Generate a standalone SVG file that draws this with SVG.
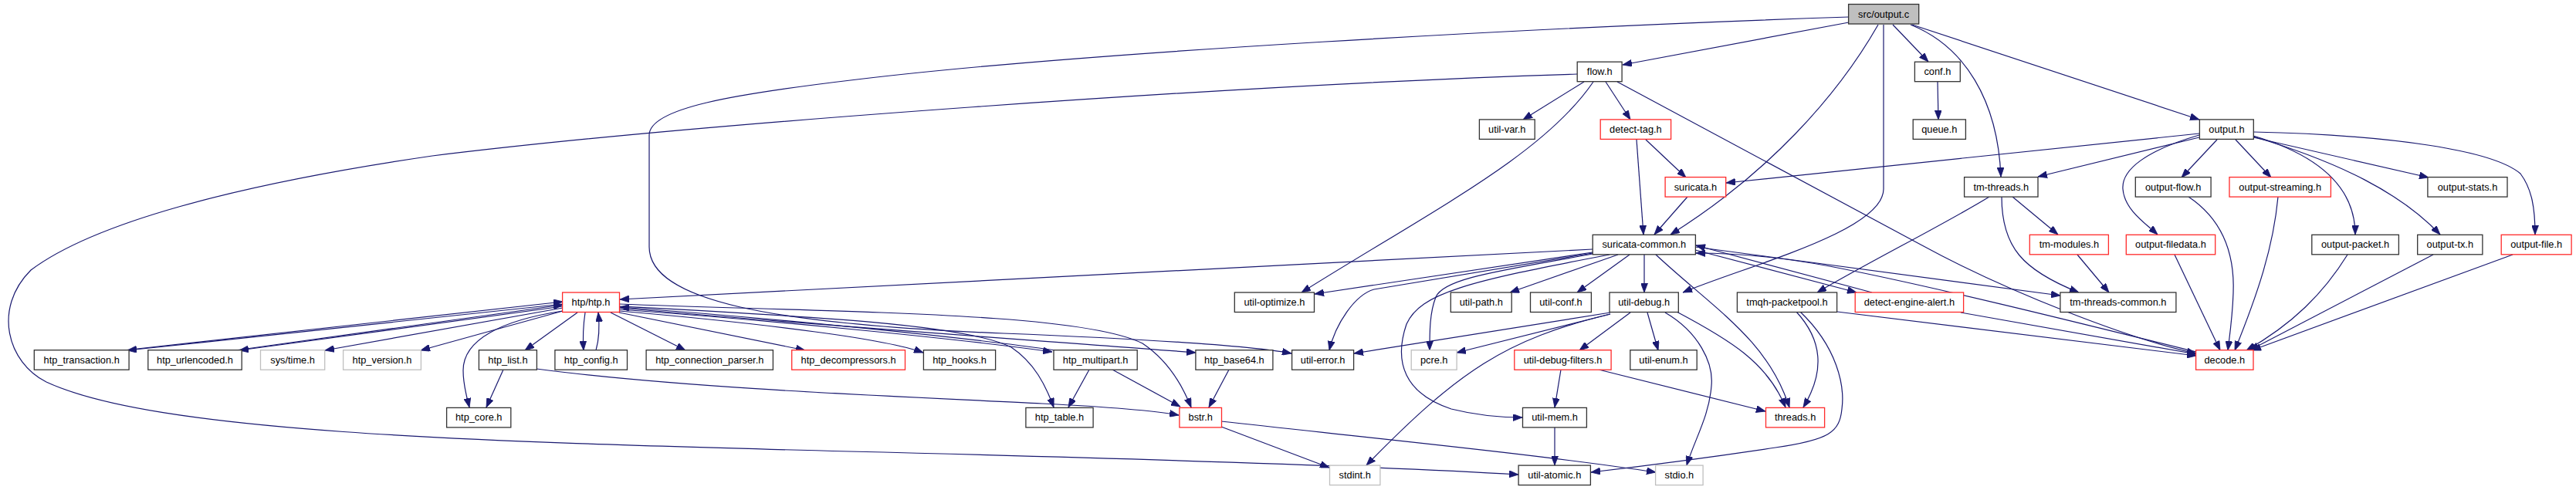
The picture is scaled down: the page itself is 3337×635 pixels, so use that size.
<svg xmlns="http://www.w3.org/2000/svg" width="3337" height="635" viewBox="0 0 3337 635">
<defs>
<marker id="a" viewBox="0 0 12 9" refX="12" refY="4.5" markerWidth="12" markerHeight="9" markerUnits="userSpaceOnUse" orient="auto"><path d="M0,0 L12,4.5 L0,9 z" fill="#191970" stroke="#191970" stroke-width="0.8"/></marker>
</defs>
<style>
.node rect{fill:#fff;stroke:#333;stroke-width:1.3}
.node.r rect{stroke:#ff2a2a}
.node.g rect{stroke:#bfbfbf}
.node.root rect{fill:#bfbfbf}
.node text{font-family:"Liberation Sans",Arial,Helvetica,sans-serif;font-size:12.8px;text-anchor:middle;fill:#000}
#edges path{fill:none;stroke:#191970;stroke-width:1.2;marker-end:url(#a)}
</style>
<rect width="3337" height="635" fill="#fff"/>
<g id="edges">
<path d="M2395,29 L2102,84"/>
<path d="M2452,32 L2498,80"/>
<path d="M2510,106 L2511,155"/>
<path d="M2475,32 C2545,60 2588,130 2592,229"/>
<path d="M2477,32 L2849,155"/>
<path d="M2433,32 C2380,125 2290,225 2164,304"/>
<path d="M2440,32 L2440,245 C2440,300 2260,345 2180,379"/>
<path d="M2395,22 C2000,35 1400,68 1110,103 C950,122 841,140 841,175 L841,320 C841,390 1000,420 1300,432 C1500,440 1620,448 1673,458"/>
<path d="M2052,106 L1973,155"/>
<path d="M2080,106 L2112,155"/>
<path d="M2064,106 C2000,200 1860,270 1686,379"/>
<path d="M2095,106 L2490,318 C2600,378 2760,440 2845,458"/>
<path d="M2043,96 C1600,110 900,160 560,202 C300,240 120,290 40,350 C-10,400 10,470 60,495 C200,560 600,572 1100,585 C1500,595 1800,605 1967,615"/>
<path d="M2120,181 L2129,304"/>
<path d="M2132,181 L2184,230"/>
<path d="M2186,255 L2143,304"/>
<path d="M2849,173 L2236,237"/>
<path d="M2849,178 L2640,229"/>
<path d="M2849,175 C2780,195 2748,220 2750,245 C2752,272 2780,290 2795,304"/>
<path d="M2872,181 L2826,230"/>
<path d="M2896,181 L2942,230"/>
<path d="M2919,176 C3000,200 3051,240 3051,304"/>
<path d="M2919,177 C3030,210 3110,250 3161,304"/>
<path d="M2919,178 L3146,230"/>
<path d="M2919,171 C3100,175 3230,195 3265,225 C3280,245 3284,270 3284,304"/>
<path d="M2817,330 L2876,454"/>
<path d="M2835,255 C2880,285 2895,330 2893,380 C2892,410 2889,430 2886,454"/>
<path d="M2951,255 C2945,320 2925,380 2895,454"/>
<path d="M3041,330 C3010,380 2970,420 2910,454"/>
<path d="M3152,330 L2914,454"/>
<path d="M3255,330 L2917,454"/>
<path d="M2577,255 C2520,290 2420,340 2354,379"/>
<path d="M2607,255 L2666,304"/>
<path d="M2593,255 C2593,320 2620,350 2693,379"/>
<path d="M2691,330 L2732,379"/>
<path d="M2063,323 L803,388"/>
<path d="M2063,327 L1703,381"/>
<path d="M2063,328 L1780,375 C1755,382 1730,420 1722,454"/>
<path d="M2063,329 C1950,350 1870,360 1860,385 C1852,405 1852,430 1852,454"/>
<path d="M2085,330 C1900,365 1840,380 1822,420 C1805,470 1820,510 1880,530 C1920,540 1950,541 1972,541"/>
<path d="M2096,330 L1956,379"/>
<path d="M2111,330 L2043,379"/>
<path d="M2130,330 L2130,379"/>
<path d="M2145,330 C2220,400 2290,440 2318,528"/>
<path d="M2196,324 L2405,379"/>
<path d="M2425,379 L2197,318"/>
<path d="M2196,320 L2669,383"/>
<path d="M2845,456 C2700,420 2500,370 2370,345 C2300,332 2240,328 2197,328"/>
<path d="M2086,405 L1754,458"/>
<path d="M2086,407 L1887,457"/>
<path d="M2086,407 C1950,440 1890,480 1770,603"/>
<path d="M2112,405 L2046,454"/>
<path d="M2134,405 L2148,454"/>
<path d="M2172,404 C2240,440 2290,470 2313,528"/>
<path d="M2157,405 C2200,430 2220,470 2217,500 C2214,540 2195,570 2185,603"/>
<path d="M2022,479 L2014,528"/>
<path d="M2071,479 L2287,533"/>
<path d="M2014,554 L2014,603"/>
<path d="M2332,404 C2380,450 2390,500 2386,530 C2383,560 2370,570 2300,580 C2200,595 2120,605 2061,612"/>
<path d="M2327,404 C2360,440 2365,480 2336,528"/>
<path d="M2380,404 L2845,461"/>
<path d="M2540,405 L2845,459"/>
<path d="M729,394 L165,454"/>
<path d="M160,454 L729,391"/>
<path d="M729,397 L310,454"/>
<path d="M305,454 L729,395"/>
<path d="M729,399 L421,454"/>
<path d="M729,403 L545,454"/>
<path d="M729,403 C650,415 600,440 600,480 C600,500 605,515 608,528"/>
<path d="M748,405 L680,454"/>
<path d="M758,405 C755,425 755,440 756,454"/>
<path d="M772,454 C776,440 777,425 775,405"/>
<path d="M791,405 L888,454"/>
<path d="M802,405 L1043,454"/>
<path d="M802,403 C1000,420 1150,440 1196,457"/>
<path d="M802,401 C1000,415 1250,440 1363,456"/>
<path d="M1367,454 C1250,437 1000,412 803,398"/>
<path d="M802,399 C1100,425 1400,445 1549,457"/>
<path d="M802,397 C1050,410 1250,420 1310,450 C1340,470 1355,500 1365,528"/>
<path d="M802,394 C1100,405 1400,405 1480,445 C1510,465 1530,495 1543,528"/>
<path d="M652,479 L630,528"/>
<path d="M695,478 C900,505 1200,515 1350,523 C1450,528 1500,533 1527,538"/>
<path d="M1411,479 L1384,528"/>
<path d="M1441,479 L1529,527"/>
<path d="M1592,479 L1566,528"/>
<path d="M1582,553 L1722,606"/>
<path d="M1582,546 C1800,570 2000,590 2145,612"/>
</g>
<g id="n_output_c" class="node root"><rect x="2394.6" y="5.5" width="91.1" height="25.5"/><text x="2440.2" y="22.5">src/output.c</text></g>
<g id="n_flow" class="node"><rect x="2043.2" y="80.2" width="57.9" height="25.5"/><text x="2072.2" y="97.2">flow.h</text></g>
<g id="n_conf" class="node"><rect x="2480.4" y="80.2" width="58.9" height="25.5"/><text x="2509.9" y="97.2">conf.h</text></g>
<g id="n_util_var" class="node"><rect x="1916.4" y="154.9" width="71.8" height="25.5"/><text x="1952.3" y="171.9">util-var.h</text></g>
<g id="n_detect_tag" class="node r"><rect x="2073.2" y="154.9" width="91.4" height="25.5"/><text x="2118.9" y="171.9">detect-tag.h</text></g>
<g id="n_queue" class="node"><rect x="2478.2" y="154.9" width="68.2" height="25.5"/><text x="2512.3" y="171.9">queue.h</text></g>
<g id="n_output_h" class="node"><rect x="2849.4" y="154.9" width="69.9" height="25.5"/><text x="2884.4" y="171.9">output.h</text></g>
<g id="n_suricata" class="node r"><rect x="2157.1" y="229.6" width="78.6" height="25.5"/><text x="2196.4" y="246.6">suricata.h</text></g>
<g id="n_tm_threads" class="node"><rect x="2544.6" y="229.6" width="95.4" height="25.5"/><text x="2592.3" y="246.6">tm-threads.h</text></g>
<g id="n_output_flow" class="node"><rect x="2766.3" y="229.6" width="97.8" height="25.5"/><text x="2815.2" y="246.6">output-flow.h</text></g>
<g id="n_output_streaming" class="node r"><rect x="2888" y="229.6" width="131.4" height="25.5"/><text x="2953.7" y="246.6">output-streaming.h</text></g>
<g id="n_output_stats" class="node"><rect x="3144.9" y="229.6" width="103.1" height="25.5"/><text x="3196.5" y="246.6">output-stats.h</text></g>
<g id="n_suricata_common" class="node"><rect x="2063.2" y="304.3" width="133.2" height="25.5"/><text x="2129.8" y="321.3">suricata-common.h</text></g>
<g id="n_tm_modules" class="node r"><rect x="2629.3" y="304.3" width="102.1" height="25.5"/><text x="2680.4" y="321.3">tm-modules.h</text></g>
<g id="n_output_filedata" class="node r"><rect x="2754.3" y="304.3" width="115.4" height="25.5"/><text x="2812" y="321.3">output-filedata.h</text></g>
<g id="n_output_packet" class="node"><rect x="2994.8" y="304.3" width="112.6" height="25.5"/><text x="3051.1" y="321.3">output-packet.h</text></g>
<g id="n_output_tx" class="node"><rect x="3131.7" y="304.3" width="84.2" height="25.5"/><text x="3173.8" y="321.3">output-tx.h</text></g>
<g id="n_output_file" class="node r"><rect x="3240.2" y="304.3" width="90.9" height="25.5"/><text x="3285.7" y="321.3">output-file.h</text></g>
<g id="n_htp" class="node r"><rect x="728.6" y="379" width="73.9" height="25.5"/><text x="765.5" y="396">htp/htp.h</text></g>
<g id="n_util_optimize" class="node"><rect x="1599.3" y="379" width="103.2" height="25.5"/><text x="1650.9" y="396">util-optimize.h</text></g>
<g id="n_util_path" class="node"><rect x="1879.3" y="379" width="78.9" height="25.5"/><text x="1918.8" y="396">util-path.h</text></g>
<g id="n_util_conf" class="node"><rect x="1982.5" y="379" width="78.9" height="25.5"/><text x="2022" y="396">util-conf.h</text></g>
<g id="n_util_debug" class="node"><rect x="2085" y="379" width="89.3" height="25.5"/><text x="2129.7" y="396">util-debug.h</text></g>
<g id="n_tmqh_packetpool" class="node"><rect x="2250.4" y="379" width="129.2" height="25.5"/><text x="2315" y="396">tmqh-packetpool.h</text></g>
<g id="n_detect_engine_alert" class="node r"><rect x="2403.2" y="379" width="140.4" height="25.5"/><text x="2473.4" y="396">detect-engine-alert.h</text></g>
<g id="n_tm_threads_common" class="node"><rect x="2668.9" y="379" width="150" height="25.5"/><text x="2743.9" y="396">tm-threads-common.h</text></g>
<g id="n_htp_transaction" class="node"><rect x="44.3" y="453.7" width="122.8" height="25.5"/><text x="105.7" y="470.7">htp_transaction.h</text></g>
<g id="n_htp_urlencoded" class="node"><rect x="191.8" y="453.7" width="121.4" height="25.5"/><text x="252.5" y="470.7">htp_urlencoded.h</text></g>
<g id="n_sys_time" class="node g"><rect x="337.5" y="453.7" width="83.2" height="25.5"/><text x="379.1" y="470.7">sys/time.h</text></g>
<g id="n_htp_version" class="node g"><rect x="444.6" y="453.7" width="100.8" height="25.5"/><text x="495" y="470.7">htp_version.h</text></g>
<g id="n_htp_list" class="node"><rect x="620.4" y="453.7" width="75" height="25.5"/><text x="657.9" y="470.7">htp_list.h</text></g>
<g id="n_htp_config" class="node"><rect x="718.9" y="453.7" width="93.6" height="25.5"/><text x="765.7" y="470.7">htp_config.h</text></g>
<g id="n_htp_connection_parser" class="node"><rect x="837.1" y="453.7" width="164.3" height="25.5"/><text x="919.25" y="470.7">htp_connection_parser.h</text></g>
<g id="n_htp_decompressors" class="node r"><rect x="1025.7" y="453.7" width="146.8" height="25.5"/><text x="1099.1" y="470.7">htp_decompressors.h</text></g>
<g id="n_htp_hooks" class="node"><rect x="1196.4" y="453.7" width="93.2" height="25.5"/><text x="1243" y="470.7">htp_hooks.h</text></g>
<g id="n_htp_multipart" class="node"><rect x="1365" y="453.7" width="108.2" height="25.5"/><text x="1419.1" y="470.7">htp_multipart.h</text></g>
<g id="n_htp_base64" class="node"><rect x="1548.9" y="453.7" width="100" height="25.5"/><text x="1598.9" y="470.7">htp_base64.h</text></g>
<g id="n_util_error" class="node"><rect x="1673.6" y="453.7" width="80" height="25.5"/><text x="1713.6" y="470.7">util-error.h</text></g>
<g id="n_pcre" class="node g"><rect x="1828.2" y="453.7" width="58.9" height="25.5"/><text x="1857.7" y="470.7">pcre.h</text></g>
<g id="n_util_debug_filters" class="node r"><rect x="1961.8" y="453.7" width="125.3" height="25.5"/><text x="2024.5" y="470.7">util-debug-filters.h</text></g>
<g id="n_util_enum" class="node"><rect x="2111.8" y="453.7" width="86.4" height="25.5"/><text x="2155" y="470.7">util-enum.h</text></g>
<g id="n_decode" class="node r"><rect x="2844.6" y="453.7" width="74.4" height="25.5"/><text x="2881.8" y="470.7">decode.h</text></g>
<g id="n_htp_core" class="node"><rect x="578.6" y="528.4" width="83.2" height="25.5"/><text x="620.2" y="545.4">htp_core.h</text></g>
<g id="n_htp_table" class="node"><rect x="1328.9" y="528.4" width="87.2" height="25.5"/><text x="1372.5" y="545.4">htp_table.h</text></g>
<g id="n_bstr" class="node r"><rect x="1527.9" y="528.4" width="54.6" height="25.5"/><text x="1555.2" y="545.4">bstr.h</text></g>
<g id="n_util_mem" class="node"><rect x="1972.5" y="528.4" width="82.9" height="25.5"/><text x="2014" y="545.4">util-mem.h</text></g>
<g id="n_threads" class="node r"><rect x="2287.5" y="528.4" width="76.1" height="25.5"/><text x="2325.6" y="545.4">threads.h</text></g>
<g id="n_stdint" class="node g"><rect x="1722.5" y="603.1" width="65.4" height="25.5"/><text x="1755.2" y="620.1">stdint.h</text></g>
<g id="n_util_atomic" class="node"><rect x="1967.1" y="603.1" width="93.3" height="25.5"/><text x="2013.8" y="620.1">util-atomic.h</text></g>
<g id="n_stdio" class="node g"><rect x="2144.6" y="603.1" width="61.5" height="25.5"/><text x="2175.4" y="620.1">stdio.h</text></g>
</svg>
